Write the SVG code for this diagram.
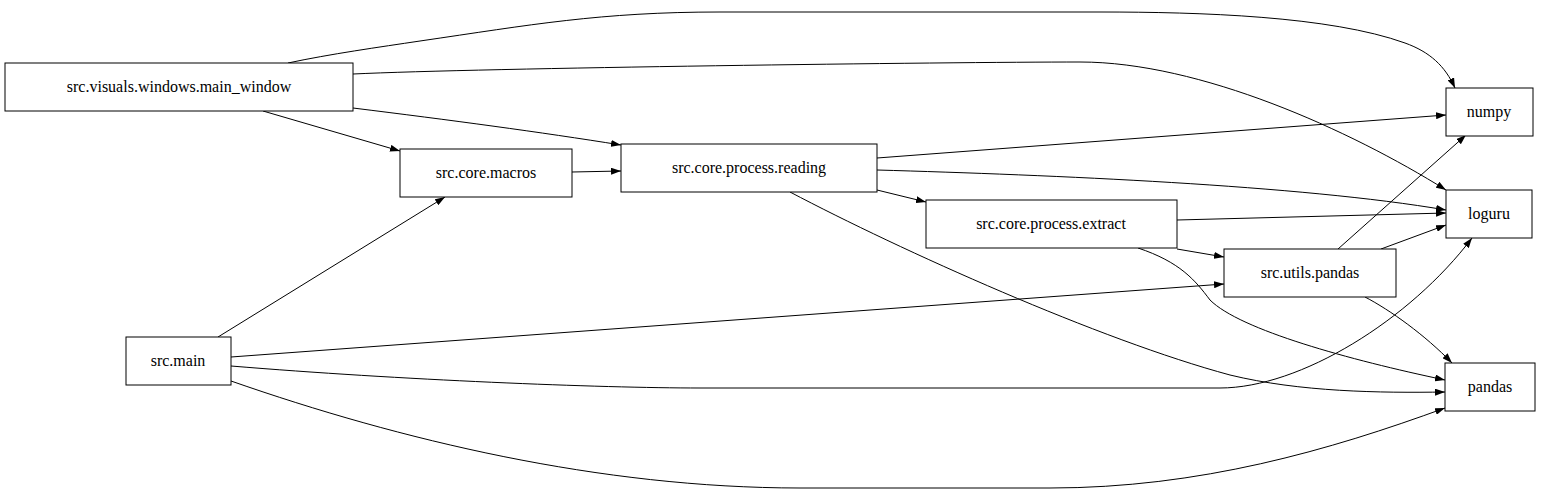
<svg xmlns="http://www.w3.org/2000/svg" width="1541" height="494" viewBox="0 0 1541 494">
<style>
.n rect{fill:#fff;stroke:#000;stroke-width:1}
.n text{font-family:'Liberation Serif','Times New Roman','DejaVu Serif',serif;font-size:16px;text-anchor:middle}
#edges path{fill:none;stroke:#000;stroke-width:1;marker-end:url(#a)}
</style>
<defs><marker id="a" markerWidth="10" markerHeight="7" refX="10" refY="3.5" orient="auto" markerUnits="userSpaceOnUse"><path d="M0,0L10,3.5L0,7z" fill="#000"/></marker></defs>
<rect width="1541" height="494" fill="#fff"/>
<g id="edges">
<path d="M288,63 C330,54 380,47 420,41 C530,25 600,12 720,12 L1100,12 C1200,12 1330,16 1405,43 C1430,52 1445,66 1455,88"/>
<path d="M353,74 C480,68 950,62 1080,62 C1200,62 1350,130 1446,190"/>
<path d="M263,111 L400,151"/>
<path d="M353,108 C450,120 540,132 621,145"/>
<path d="M572,172 L621,171"/>
<path d="M877,158 L1446,115"/>
<path d="M877,170 C1050,175 1300,185 1446,210"/>
<path d="M877,190 L926,202"/>
<path d="M790,192 C900,250 1100,340 1230,375 C1300,392 1380,393 1445,392"/>
<path d="M1177,220 L1446,213"/>
<path d="M1177,249 L1224,257"/>
<path d="M1138,248 C1180,262 1195,280 1210,300 C1240,330 1350,360 1445,380"/>
<path d="M1338,249 L1466,135"/>
<path d="M1381,249 L1446,225"/>
<path d="M1365,297 C1390,310 1425,335 1452,363"/>
<path d="M218,337 L445,197"/>
<path d="M231,357 L1224,284"/>
<path d="M231,366 C400,380 600,388 700,388 L1220,388 C1300,388 1410,320 1472,238"/>
<path d="M231,381 C400,440 600,488 800,488 L1050,488 C1200,488 1330,450 1445,408"/>
</g>
<g id="main_window" class="n"><rect x="5" y="63" width="348" height="48"/><text x="179" y="92">src.visuals.windows.main_window</text></g>
<g id="macros" class="n"><rect x="400" y="149" width="172" height="48"/><text x="486" y="178">src.core.macros</text></g>
<g id="reading" class="n"><rect x="621" y="144" width="256" height="48"/><text x="749" y="173">src.core.process.reading</text></g>
<g id="extract" class="n"><rect x="926" y="200" width="251" height="48"/><text x="1051" y="229">src.core.process.extract</text></g>
<g id="utils_pandas" class="n"><rect x="1224" y="249" width="172" height="48"/><text x="1310" y="278">src.utils.pandas</text></g>
<g id="numpy" class="n"><rect x="1446" y="88" width="87" height="48"/><text x="1489" y="117">numpy</text></g>
<g id="loguru" class="n"><rect x="1446" y="190" width="86" height="48"/><text x="1489" y="219">loguru</text></g>
<g id="pandas" class="n"><rect x="1445" y="363" width="90" height="48"/><text x="1490" y="392">pandas</text></g>
<g id="main" class="n"><rect x="126" y="337" width="105" height="48"/><text x="178" y="366">src.main</text></g>
</svg>
